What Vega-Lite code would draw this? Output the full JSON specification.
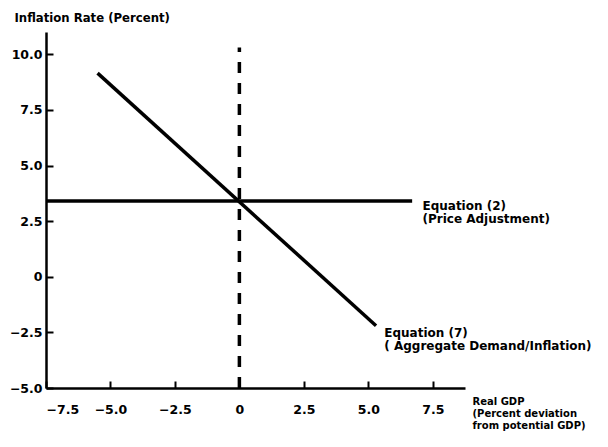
{
  "$schema": "https://vega.github.io/schema/vega-lite/v6.json",
  "width": 419,
  "height": 356,
  "autosize": {"type": "none"},
  "padding": {"left": 46, "top": 32, "right": 143, "bottom": 59},
  "background": "white",
  "config": {
    "view": {"stroke": null},
    "font": "DejaVu Sans",
    "axis": {
      "grid": false,
      "domainColor": "black",
      "domainWidth": 2.5,
      "tickColor": "black",
      "tickWidth": 2,
      "tickSize": -7,
      "labelColor": "black",
      "labelFont": "DejaVu Sans",
      "labelFontSize": 12.5,
      "labelFontWeight": "bold",
      "titleColor": "black",
      "titleFont": "DejaVu Sans",
      "titleFontSize": 11.7,
      "titleFontWeight": "bold"
    }
  },
  "datasets": {
    "curves": [
      {"series": "Equation (7)", "x": -5.5, "y": 9.15},
      {"series": "Equation (7)", "x": 5.3, "y": -2.2},
      {"series": "Equation (2)", "x": -7.5, "y": 3.4},
      {"series": "Equation (2)", "x": 6.7, "y": 3.4}
    ],
    "vertical": [{"x": 0, "y": -5, "y2": 10.3}],
    "labels": [
      {"x": 7.1, "y": 3.42, "text": "Equation (2)\n(Price Adjustment)"},
      {"x": 5.62, "y": -2.3, "text": "Equation (7)\n( Aggregate Demand/Inflation)"}
    ]
  },
  "layer": [
    {
      "data": {"name": "vertical"},
      "mark": {"type": "rule", "color": "black", "strokeWidth": 3.5, "strokeDash": [11, 10]},
      "encoding": {
        "x": {
          "field": "x", "type": "quantitative",
          "scale": {"domain": [-7.5, 8.75], "nice": false, "zero": false},
          "axis": {
            "values": [-7.5, -5, -2.5, 0, 2.5, 5, 7.5],
            "labelExpr": "datum.value == 0 ? '0' : format(datum.value, '.1f')",
            "labelPadding": 22,
            "title": ["Real GDP", "(Percent deviation", "from potential GDP)"],
            "titleAnchor": "start",
            "titleAlign": "left",
            "titleBaseline": "top",
            "titleX": 426,
            "titleY": 8,
            "titleLineHeight": 12,
            "titleFontSize": 10
          }
        },
        "y": {
          "field": "y", "type": "quantitative",
          "scale": {"domain": [-5, 11], "nice": false, "zero": false},
          "axis": {
            "values": [-5, -2.5, 0, 2.5, 5, 7.5, 10],
            "labelExpr": "datum.value == 0 ? '0' : format(datum.value, '.1f')",
            "labelPadding": 11,
            "title": "Inflation Rate (Percent)",
            "titleAngle": 0,
            "titleAlign": "left",
            "titleBaseline": "alphabetic",
            "titleX": -32,
            "titleY": -11
          }
        },
        "y2": {"field": "y2"}
      }
    },
    {
      "data": {"name": "curves"},
      "mark": {"type": "line", "color": "black", "strokeWidth": 3.5},
      "encoding": {
        "x": {"field": "x", "type": "quantitative"},
        "y": {"field": "y", "type": "quantitative"},
        "detail": {"field": "series"}
      }
    },
    {
      "data": {"name": "labels"},
      "mark": {"type": "text", "align": "left", "baseline": "top", "lineBreak": "\n", "lineHeight": 13, "fontSize": 12, "fontWeight": "bold", "font": "DejaVu Sans", "color": "black"},
      "encoding": {
        "x": {"field": "x", "type": "quantitative"},
        "y": {"field": "y", "type": "quantitative"},
        "text": {"field": "text"}
      }
    }
  ]
}
